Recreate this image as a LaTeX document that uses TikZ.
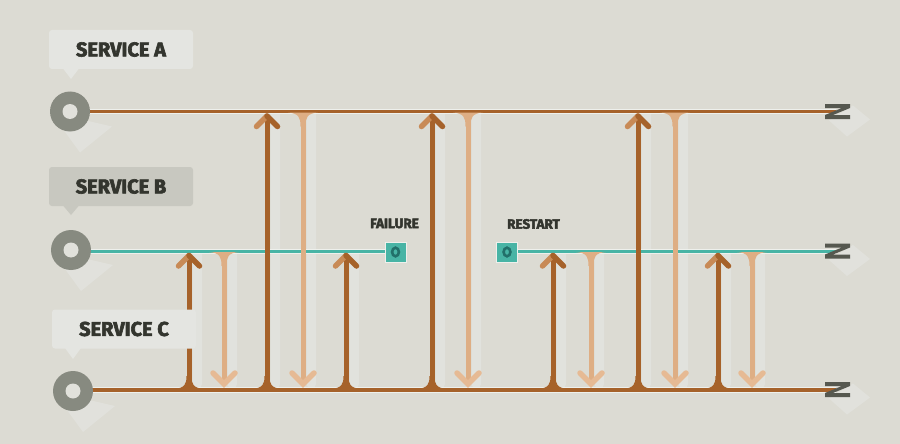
\documentclass[tikz,border=0pt]{standalone}
\usepackage{fontspec}
\setmainfont{Fira Sans}
\newfontfamily\heavyfont[BoldFeatures={FakeBold=3}]{Fira Sans}
\begin{document}
\begin{tikzpicture}[x=1pt,y=-1pt]
\definecolor{bg}{HTML}{DCDBD3}
\definecolor{brown}{HTML}{A6622A}
\definecolor{brownL}{HTML}{C88A56}
\definecolor{tan}{HTML}{DEAE84}
\definecolor{tanL}{HTML}{E6BA94}
\definecolor{teal}{HTML}{48B4A5}
\definecolor{tealD}{HTML}{22706A}
\definecolor{grayc}{HTML}{878A80}
\definecolor{bubbleL}{HTML}{E4E5E1}
\definecolor{bubbleD}{HTML}{C8C8C0}
\definecolor{txt}{HTML}{33352E}
\definecolor{zc}{HTML}{56584F}
\definecolor{band}{HTML}{E1E2DD}
\definecolor{hl}{HTML}{EEF0EC}
\tikzset{
  bubble/.style={rounded corners=3pt, minimum width=144pt, minimum height=39pt, inner sep=0pt, text=txt, font=\heavyfont\fontsize{20}{24}\selectfont\bfseries},
  evlabel/.style={inner sep=0pt, text=txt, font=\heavyfont\fontsize{13.5}{16}\selectfont\bfseries},
  marker/.style={fill=teal, draw=hl, line width=0.8pt, minimum width=21pt, minimum height=20pt, inner sep=0pt},
  upshaft/.style={draw=brown, line width=5pt},
  downshaft/.style={draw=tan, line width=5pt},
  shadowfill/.style={fill=bubbleL, opacity=0.65},
}
\useasboundingbox (0,0) rectangle (900,444);
\fill[bg] (0,0) rectangle (900,444);

% level coordinates
\coordinate (A0) at (70,111.5);   \coordinate (A1) at (836,111.5);
\coordinate (B0) at (71,251);     \coordinate (B1) at (836,251);
\coordinate (C0) at (73,389.5);   \coordinate (C1) at (836,389.5);

% light bands beside arrows
\foreach \x/\t in {189/251,267/111.5,346/251,432/111.5,553/251,638/111.5,718/251,224/251,303/111.5,468/111.5,591/251,675/111.5,752/251}{
  \fill[band] (\x+3.5,\t+2) [rounded corners=5pt] -- (\x+3.5,389) -- (\x+13,389) [sharp corners] -- (\x+13,\t+2) -- cycle;
}

% shadows of start circles
\foreach \cx/\cy in {70/111.5,71/250,73/391}{
  \fill[shadowfill] (\cx+16,\cy+9) -- (\cx+42,\cy+15) -- (\cx+10,\cy+41) -- (\cx-6,\cy+19) -- cycle;
}
% shadows of end marks
\foreach \zy in {111.5,251,389.5}{
  \fill[shadowfill] (853,\zy-6) -- (870,\zy+8) -- (847,\zy+25) -- (829,\zy+9) -- cycle;
}

% service lines
\draw[hl, line width=5pt] (A0) -- (A1);
\draw[brown, line width=3pt] (A0) -- (A1);
\draw[hl, line width=5pt] (B0) -- (386,251);
\draw[hl, line width=5pt] (516,251) -- (B1);
\draw[teal, line width=3pt] (B0) -- (386,251);
\draw[teal, line width=3pt] (516,251) -- (B1);
\draw[hl, line width=6pt] (C0) -- (C1);
\draw[brown, line width=4pt] (C0) -- (C1);

% up arrows (brown) from C
\foreach \x/\t in {189/251,267/111.5,346/251,432/111.5,553/251,638/111.5,718/251}{
  \fill[brown] (\x-15,389) .. controls (\x-4,388) and (\x-2.5,384) .. (\x-2.5,376) -- (\x+2.5,376) .. controls (\x+2.5,384) and (\x+4,388) .. (\x+15,389) -- cycle;
  \draw[upshaft] (\x,389) -- (\x,\t+6);
  \draw[brownL, line width=5.5pt, line cap=round] (\x-10.5,\t+15) -- (\x,\t+4.5);
  \draw[brown, line width=5.5pt, line cap=round] (\x,\t+4.5) -- (\x+10.5,\t+15);
}

% down arrows (tan) to C
\foreach \x/\t in {224/251,303/111.5,468/111.5,591/251,675/111.5,752/251}{
  \fill[tan] (\x-15,\t+1) -- (\x+15,\t+1) .. controls (\x+4,\t+2) and (\x+2.5,\t+6) .. (\x+2.5,\t+15) -- (\x-2.5,\t+15) .. controls (\x-2.5,\t+6) and (\x-4,\t+2) .. (\x-15,\t+1) -- cycle;
  \draw[downshaft] (\x,\t+10) -- (\x,383);
  \draw[tanL, line width=5.5pt, line cap=round] (\x-11,373) -- (\x,384) -- (\x+11,373);
}

% start circles
\foreach \n/\cx/\cy in {a/70/111.5,b/71/250,c/73/391}{
  \node[circle, fill=grayc, minimum size=40pt, inner sep=0pt] (start\n) at (\cx,\cy) {};
  \fill[bg!70!hl] (start\n) circle (7.5pt);
}

% end marks (Z glyphs)
\foreach \n/\zy in {a/111.5,b/251,c/389.5}{
  \coordinate (end\n) at (838,\zy);
  \fill[zc] (825,\zy-7.5) -- (850,\zy-7.5) -- (850,\zy-3.5) -- (833,\zy+3.5) -- (850,\zy+3.5) -- (850,\zy+7.5) -- (825,\zy+7.5) -- (825,\zy+3.5) -- (842,\zy-3.5) -- (825,\zy-3.5) -- cycle;
}

% bubbles
\node[bubble, fill=bubbleL] (la) at (121,49.5) {SERVICE A};
\fill[bubbleL] (63,68.5) -- (79,68.5) -- (71,79) -- cycle;
\node[bubble, fill=bubbleD] (lb) at (121,186.5) {SERVICE B};
\fill[bubbleD] (63,205.5) -- (79,205.5) -- (71,215) -- cycle;
\node[bubble, fill=bubbleL] (lc) at (124,329) {SERVICE C};
\fill[bubbleL] (65,348) -- (81,348) -- (73,359) -- cycle;

% failure / restart markers
\node[marker] (fail) at (395.5,252) {};
\draw[tealD, line width=2.6pt] (fail) ellipse (3.4pt and 4.3pt);
\node[marker] (restart) at (507,252) {};
\draw[tealD, line width=2.6pt] (restart) ellipse (3.4pt and 4.3pt);
\node[evlabel] (failtxt) at (394.5,223.5) {FAILURE};
\node[evlabel] (resttxt) at (533.5,224) {RESTART};
\end{tikzpicture}
\end{document}
